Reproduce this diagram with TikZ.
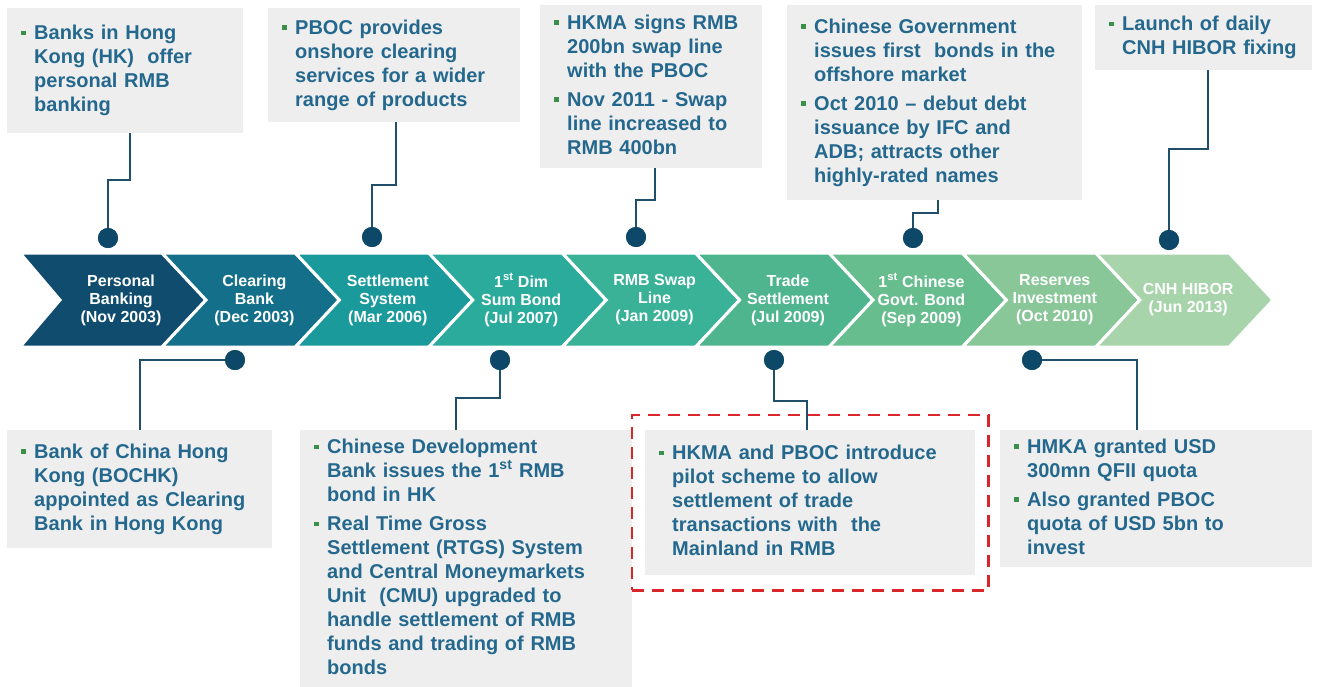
\documentclass[tikz,border=0pt]{standalone}
\usepackage{fontspec}
\setmainfont{Liberation Sans}
\usetikzlibrary{fit}

\definecolor{notegrey}{HTML}{EEEEEE}
\definecolor{noteblue}{HTML}{24688E}
\definecolor{bulletgreen}{HTML}{3A9048}
\definecolor{dotblue}{HTML}{0E4868}
\definecolor{linkblue}{HTML}{1F4F6A}
\definecolor{markred}{HTML}{D9262B}
\definecolor{chevA}{HTML}{0F4C6E}
\definecolor{chevB}{HTML}{14708A}
\definecolor{chevC}{HTML}{1B9A9C}
\definecolor{chevD}{HTML}{2BAB9C}
\definecolor{chevE}{HTML}{39B298}
\definecolor{chevF}{HTML}{4EB58E}
\definecolor{chevG}{HTML}{68BD8F}
\definecolor{chevH}{HTML}{89C799}
\definecolor{chevI}{HTML}{A8D4AC}

\newcommand{\bsq}{\textcolor{bulletgreen}{\raisebox{4.5pt}{\rule{4.5pt}{4.5pt}}}}
\newcommand{\notelines}[1]{\begin{tabular}{@{}l@{\hspace{8.5pt}}l@{}}#1\end{tabular}}

\tikzstyle{notebox} = [fill=notegrey, text=noteblue, anchor=north west, align=left,
    inner xsep=14pt, inner ysep=6pt, font=\bfseries\fontsize{20}{24}\selectfont]
\tikzstyle{chevlabel} = [text=white, align=center, inner sep=0pt,
    font=\bfseries\fontsize{16}{18}\selectfont]
\tikzstyle{pindot} = [circle, fill=dotblue, minimum size=20pt, inner sep=0pt]
\tikzstyle{link} = [draw=linkblue, line width=1.6pt]
\tikzstyle{markbox} = [draw=markred, line width=2.5pt, dash pattern=on 12pt off 8pt]

\begin{document}
\begin{tikzpicture}[x=1pt, y=-1pt]
  \useasboundingbox (0,0) rectangle (1317,686);

  % timeline band
  \foreach \i/\col/\txt in {0/chevA/{Personal\\Banking\\(Nov 2003)},
      1/chevB/{Clearing\\Bank\\(Dec 2003)},
      2/chevC/{Settlement\\System\\(Mar 2006)},
      3/chevD/{1\textsuperscript{st} Dim\\Sum Bond\\(Jul 2007)},
      4/chevE/{RMB Swap\\Line\\(Jan 2009)},
      5/chevF/{Trade\\Settlement\\(Jul 2009)},
      6/chevG/{1\textsuperscript{st} Chinese\\Govt. Bond\\(Sep 2009)},
      7/chevH/{Reserves\\Investment\\(Oct 2010)},
      8/chevI/{CNH HIBOR\\(Jun 2013)}}{
    \pgfmathsetmacro{\tip}{206+133.4*\i}
    \pgfmathsetmacro{\ftop}{\tip-44}
    \ifnum\i=0 \def\btop{20}\def\bnot{60}\else
      \pgfmathsetmacro{\btop}{\tip-177.4}\pgfmathsetmacro{\bnot}{\tip-133.4}\fi
    \filldraw[fill=\col, draw=white, line width=3pt, line join=miter]
      (\btop,253) -- (\ftop,253) -- (\tip,300) -- (\ftop,347) -- (\btop,347) -- (\bnot,300) -- cycle;
    \node[chevlabel] (chev\i) at (\tip-85,300) {\txt};
  }

  % upper notes
  \node[notebox, minimum width=236pt, minimum height=125pt, text width=208pt] (b1) at (7,8) {\notelines{%
    \bsq & Banks in Hong\\ & Kong (HK)~ offer\\ & personal RMB\\ & banking}};
  \node[notebox, minimum width=252pt, minimum height=114pt, text width=224pt] (b2) at (268,8) {\notelines{%
    \bsq & PBOC provides\\ & onshore clearing\\ & services for a wider\\ & range of products}};
  \node[notebox, minimum width=222pt, minimum height=163pt, text width=194pt] (b3) at (540,5) {\notelines{%
    \bsq & HKMA signs RMB\\ & 200bn swap line\\ & with the PBOC\\[5pt]
    \bsq & Nov 2011 - Swap\\ & line increased to\\ & RMB 400bn}};
  \node[notebox, minimum width=295pt, minimum height=195pt, text width=267pt] (b4) at (787,5) {\notelines{%
    \bsq & Chinese Government\\ & issues first~ bonds in the\\ & offshore market\\[5pt]
    \bsq & Oct 2010 -- debut debt\\ & issuance by IFC and\\ & ADB; attracts other\\ & highly-rated names}};
  \node[notebox, minimum width=217pt, minimum height=65pt, text width=189pt] (b5) at (1095,5) {\notelines{%
    \bsq & Launch of daily\\ & CNH HIBOR fixing}};

  % lower notes
  \node[notebox, minimum width=265pt, minimum height=118pt, text width=237pt] (b6) at (7,430) {\notelines{%
    \bsq & Bank of China Hong\\ & Kong (BOCHK)\\ & appointed as Clearing\\ & Bank in Hong Kong}};
  \node[notebox, minimum width=332pt, minimum height=258pt, text width=304pt] (b7) at (300,430) {\notelines{%
    \bsq & Chinese Development\\ & Bank issues the 1\textsuperscript{st} RMB\\ & bond in HK\\[5pt]
    \bsq & Real Time Gross\\ & Settlement (RTGS) System\\ & and Central Moneymarkets\\
    & Unit~ (CMU) upgraded to\\ & handle settlement of RMB\\ & funds and trading of RMB\\ & bonds}};
  \node[notebox, minimum width=330pt, minimum height=145pt, text width=302pt] (b8) at (645,430) {\notelines{%
    \bsq & HKMA and PBOC introduce\\ & pilot scheme to allow\\ & settlement of trade\\
    & transactions with~ the\\ & Mainland in RMB}};
  \node[notebox, minimum width=312pt, minimum height=137pt, text width=284pt] (b9) at (1000,430) {\notelines{%
    \bsq & HMKA granted USD\\ & 300mn QFII quota\\[5pt]
    \bsq & Also granted PBOC\\ & quota of USD 5bn to\\ & invest}};

  \node[markbox, fit=(b8), inner xsep=13pt, inner ysep=15pt] (mark) {};

  % pins on the band
  \node[pindot] (d1) at (108,238) {};
  \node[pindot] (d2) at (372,237) {};
  \node[pindot] (d3) at (636,237) {};
  \node[pindot] (d4) at (913,238) {};
  \node[pindot] (d5) at (1169,240) {};
  \node[pindot] (d6) at (235,360) {};
  \node[pindot] (d7) at (500,360) {};
  \node[pindot] (d8) at (774,360) {};
  \node[pindot] (d9) at (1032,360) {};

  \coordinate (k1) at (130,180);
  \coordinate (k2) at (396,185);
  \coordinate (k3) at (655,200);
  \coordinate (k4) at (938,213);
  \coordinate (k5) at (1208,149);
  \coordinate (k6) at (140,360);
  \coordinate (k7) at (456,398);
  \coordinate (k8) at (807,401);
  \coordinate (k9) at (1137,360);

  \draw[link] (b1.south -| k1) -- (k1) -| (d1.center);
  \draw[link] (b2.south -| k2) -- (k2) -| (d2.center);
  \draw[link] (b3.south -| k3) -- (k3) -| (d3.center);
  \draw[link] (b4.south -| k4) -- (k4) -| (d4.center);
  \draw[link] (b5.south -| k5) -- (k5) -| (d5.center);
  \draw[link] (d6.center) -| (b6.north -| k6);
  \draw[link] (d7.center) |- (k7) -- (b7.north -| k7);
  \draw[link] (d8.center) |- (k8) -- (b8.north -| k8);
  \draw[link] (d9.center) -| (b9.north -| k9);

  \foreach \n in {d1,d2,d3,d4,d5,d6,d7,d8,d9}
    \node[pindot] at (\n) {};
\end{tikzpicture}
\end{document}
